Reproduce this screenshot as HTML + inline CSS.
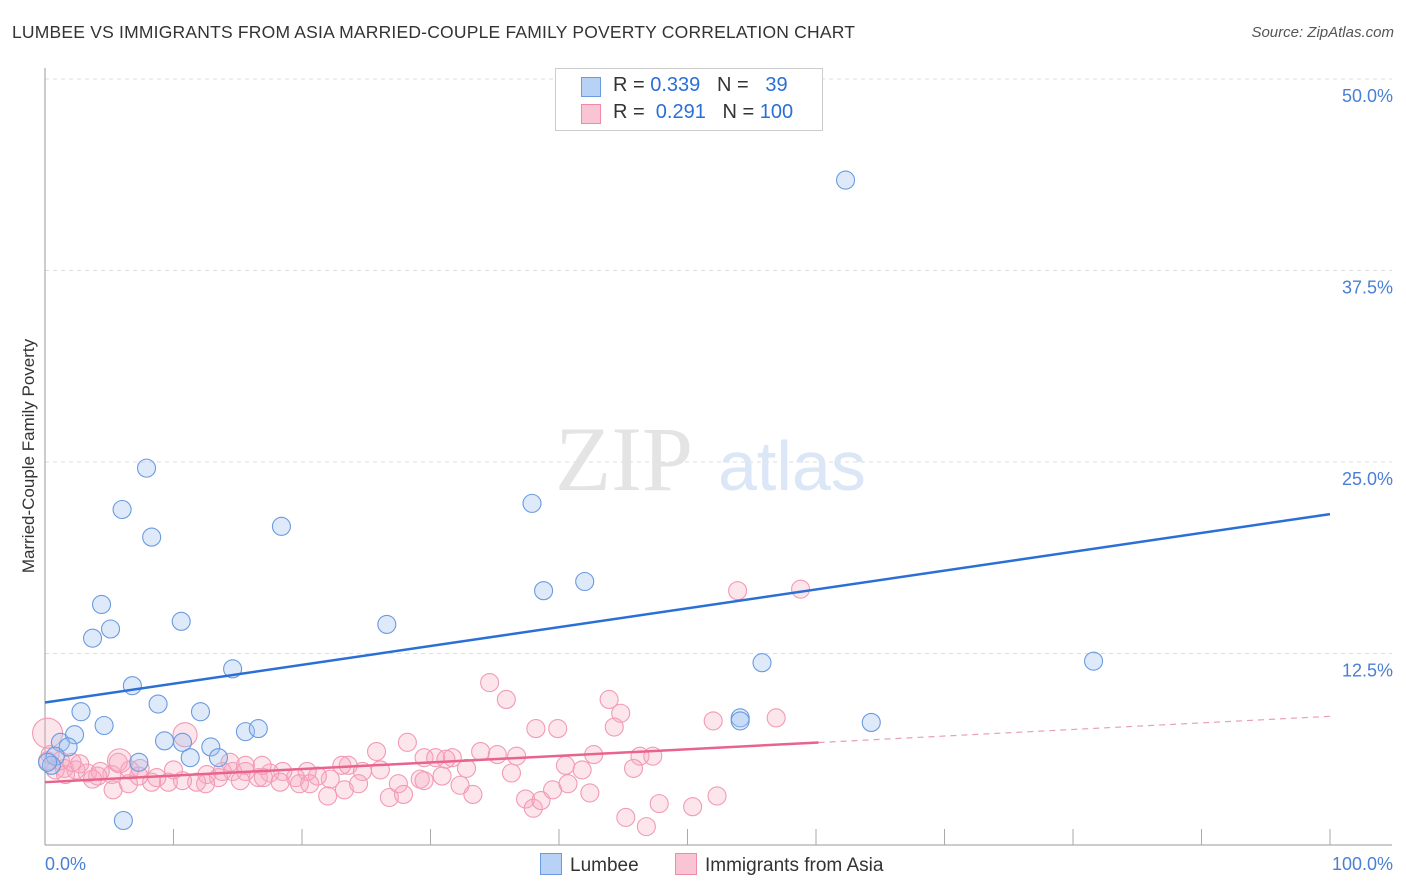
<!DOCTYPE html>
<html><head><meta charset="utf-8">
<style>
body{margin:0;background:#fff;font-family:"Liberation Sans",sans-serif;}
#wrap{position:relative;width:1406px;height:892px;}
.t{position:absolute;white-space:nowrap;}
</style></head>
<body>
<div id="wrap">
<div class="t" style="left:12px;top:22px;font-size:17.5px;color:#333;letter-spacing:0.2px">LUMBEE VS IMMIGRANTS FROM ASIA MARRIED-COUPLE FAMILY POVERTY CORRELATION CHART</div>
<div class="t" style="right:12px;top:24px;font-size:15px;color:#555;font-style:italic">Source: ZipAtlas.com</div>
<svg id="svg" width="1406" height="892" style="position:absolute;left:0;top:0"></svg>
</div>
<script>
const yTicks=[12.5,25,37.5,50];
const yTickLabels=["12.5%","25.0%","37.5%","50.0%"];
const xTickLabels=["0.0%","100.0%"];
const lumbeeX=[62.3,7.9,6.0,8.3,18.4,37.9,4.4,38.8,42.0,5.1,3.7,10.6,26.6,14.6,55.8,81.6,6.8,8.8,2.8,12.1,4.6,15.6,16.6,54.1,54.1,64.3,1.2,9.3,10.7,12.9,2.3,1.8,0.8,11.3,13.5,7.3,0.5,6.1,0.2];
const lumbeeY=[43.4,24.6,21.9,20.1,20.8,22.3,15.7,16.6,17.2,14.1,13.5,14.6,14.4,11.5,11.9,12.0,10.4,9.2,8.7,8.7,7.8,7.4,7.6,8.3,8.1,8.0,6.7,6.8,6.7,6.4,7.2,6.4,5.8,5.7,5.7,5.4,5.2,1.6,5.4];
const asiaX=[53.9,58.8,34.6,35.9,43.9,44.8,38.2,39.9,44.3,52.0,56.9,28.2,25.8,23.6,33.9,35.2,36.7,29.5,31.7,30.4,31.2,40.5,42.7,46.3,47.3,45.8,41.8,36.3,32.8,30.9,29.2,27.5,26.1,24.7,23.1,22.2,21.2,20.4,19.5,18.5,17.5,16.6,15.6,14.6,13.5,12.6,11.8,10.7,9.6,8.3,7.3,6.5,5.2,4.1,3.3,2.4,1.5,0.8,1.2,6.6,8.7,7.4,15.6,15.2,17.0,19.8,22.0,23.3,24.4,26.8,27.9,32.3,33.3,29.5,37.4,38.0,38.6,39.5,40.7,42.4,45.2,46.8,47.8,50.4,52.3,4.3,5.3,12.5,13.8,18.3,20.6,2.7,1.6,0.4,2.1,3.7,5.7,10.0,0.2,14.4,16.9,0.2,10.9,5.8];
const asiaY=[16.6,16.7,10.6,9.5,9.5,8.6,7.6,7.6,7.7,8.1,8.3,6.7,6.1,5.2,6.1,5.9,5.8,5.7,5.7,5.7,5.6,5.2,5.9,5.8,5.8,5.0,4.9,4.7,5.0,4.5,4.3,4.0,4.9,4.8,5.2,4.3,4.5,4.8,4.4,4.8,4.7,4.4,4.8,4.8,4.4,4.6,4.1,4.2,4.1,4.1,4.5,4.0,4.6,4.5,4.7,4.9,5.0,4.9,5.5,4.9,4.4,5.0,5.2,4.2,4.4,4.0,3.2,3.6,4.0,3.1,3.3,3.9,3.3,4.2,3.0,2.4,2.9,3.6,4.0,3.4,1.8,1.2,2.7,2.5,3.2,4.8,3.6,4.0,4.8,4.1,4.0,5.3,4.6,5.9,5.4,4.3,5.4,4.9,5.5,5.4,5.2,7.3,7.2,5.5];
const asiaR=[9,9,9,9,9,9,9,9,9,9,9,9,9,9,9,9,9,9,9,9,9,9,9,9,9,9,9,9,9,9,9,9,9,9,9,9,9,9,9,9,9,9,9,9,9,9,9,9,9,9,9,9,9,9,9,9,9,9,9,9,9,9,9,9,9,9,9,9,9,9,9,9,9,9,9,9,9,9,9,9,9,9,9,9,9,9,9,9,9,9,9,9,9,9,9,9,9,9,9,9,9,15,12,12];
const lumbeeTrend=[9.3,21.6];
const asiaTrend=[4.1,8.4];
const asiaSolidEnd=60.2;

const NS="http://www.w3.org/2000/svg";
const svg=document.getElementById('svg');
const X=v=>45+v*12.85, Y=v=>845-v*15.32;
function mk(t,a){const e=document.createElementNS(NS,t);for(const k in a)e.setAttribute(k,a[k]);svg.appendChild(e);return e;}

yTicks.forEach((v,i)=>{
 const g=mk('line',{x1:45,x2:1392,y1:Y(v),y2:Y(v),stroke:'#ddd','stroke-dasharray':'4,4'});
 
 
 const t=mk('text',{x:1393,y:Y(v)+23,'text-anchor':'end','font-size':18,fill:'#4a7fd6','font-family':'Liberation Sans'});
 t.textContent=yTickLabels[i];
 
 
});
const ax=mk('line',{x1:45,x2:45,y1:68,y2:845,stroke:'#999'});


const bx=mk('line',{x1:45,x2:1392,y1:845,y2:845,stroke:'#999'});


for(let i=1;i<=10;i++){
 const tk=mk('line',{x1:X(i*10),x2:X(i*10),y1:829,y2:845,stroke:'#aaa'});
 
 
}
const xl0=mk('text',{x:45,y:870,'font-size':18,fill:'#4a7fd6','font-family':'Liberation Sans'});xl0.textContent=xTickLabels[0];


const xl1=mk('text',{x:1393,y:870,'text-anchor':'end','font-size':18,fill:'#4a7fd6','font-family':'Liberation Sans'});xl1.textContent=xTickLabels[1];


const yt=mk('text',{x:34,y:456,'text-anchor':'middle','font-size':17,fill:'#333','font-family':'Liberation Sans',transform:'rotate(-90 34 456)'});yt.textContent='Married-Couple Family Poverty';


const wm=mk('text',{x:555,y:490,'font-size':92,fill:'#e4e4e4','font-family':'Liberation Serif'});wm.textContent='ZIP';


const wm2=mk('text',{x:718,y:490,'font-size':70,fill:'#dbe6f6','font-family':'Liberation Sans'});wm2.textContent='atlas';



asiaX.forEach((v,i)=>{
 const c=mk('circle',{cx:X(v),cy:Y(asiaY[i]),r:asiaR[i],fill:'rgba(248,168,192,0.3)',stroke:'#f29ab6','stroke-width':1.1});
 
 
});
lumbeeX.forEach((v,i)=>{
 const c=mk('circle',{cx:X(v),cy:Y(lumbeeY[i]),r:9,fill:'rgba(160,196,240,0.35)',stroke:'#6a9ae0','stroke-width':1.1});
 
 
});
const lt=mk('line',{x1:X(0),y1:Y(lumbeeTrend[0]),x2:X(100),y2:Y(lumbeeTrend[1]),stroke:'#2a6fd6','stroke-width':2.5});


const aMid=asiaTrend[0]+(asiaTrend[1]-asiaTrend[0])*asiaSolidEnd/100;
const at=mk('line',{x1:X(0),y1:Y(asiaTrend[0]),x2:X(asiaSolidEnd),y2:Y(aMid),stroke:'#e8648c','stroke-width':2.5});


const ad=mk('line',{x1:X(asiaSolidEnd),y1:Y(aMid),x2:X(100),y2:Y(asiaTrend[1]),stroke:'#e8a0b6','stroke-width':1.2,'stroke-dasharray':'6,5'});


</script>
<div class="t" style="left:555px;top:68px;width:266px;height:61px;border:1px solid #ccc;background:#fff;font-size:20px;color:#333">
 <div style="position:absolute;left:25px;top:8px;width:18px;height:18px;background:#b8d2f5;border:1px solid #6a9ae0"></div>
 <div class="t" style="left:57px;top:5px">R = <span style="color:#2a6fd6">0.339</span>&nbsp;&nbsp;&nbsp;N = &nbsp;&nbsp;<span style="color:#2a6fd6">39</span></div>
 <div style="position:absolute;left:25px;top:35px;width:18px;height:18px;background:#f9c4d4;border:1px solid #f08aaa"></div>
 <div class="t" style="left:57px;top:32px">R = &nbsp;<span style="color:#2a6fd6">0.291</span>&nbsp;&nbsp;&nbsp;N = <span style="color:#2a6fd6">100</span></div>
</div>
<div class="t" style="left:540px;top:853px;font-size:19px;color:#333">
 <span style="display:inline-block;width:20px;height:20px;background:#b8d2f5;border:1px solid #6a9ae0;vertical-align:-4px;margin-right:8px"></span>Lumbee</div>
<div class="t" style="left:675px;top:853px;font-size:19px;color:#333">
 <span style="display:inline-block;width:20px;height:20px;background:#f9c4d4;border:1px solid #f08aaa;vertical-align:-4px;margin-right:8px"></span>Immigrants from Asia</div>
</body></html>
